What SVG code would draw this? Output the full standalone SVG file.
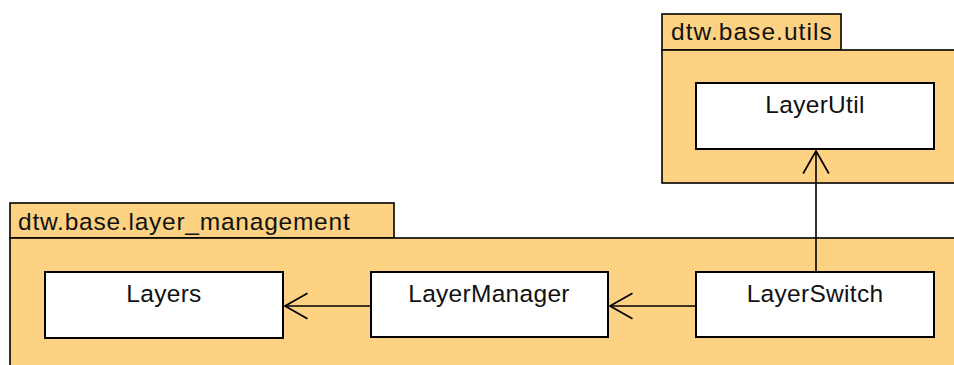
<svg xmlns="http://www.w3.org/2000/svg" width="954" height="365" viewBox="0 0 954 365">
  <style>
    .pkg { fill: #FED283; stroke: #000; stroke-width: 1.6; }
    .cls { fill: #fff; stroke: #000; stroke-width: 2; }
    .lbl { font-family: "Liberation Sans", Arial, sans-serif; font-size: 24.5px; fill: #111; letter-spacing: 0.3px; }
    .ctr { text-anchor: middle; }
    .dep { fill: none; stroke: #000; stroke-width: 1.6; }
  </style>
  <defs>
    <marker id="open" markerUnits="userSpaceOnUse" markerWidth="30" markerHeight="30" viewBox="-24 -14 28 28" refX="0" refY="0" orient="auto">
      <path d="M-21,-12 L0,0 L-21,12" fill="none" stroke="#000" stroke-width="1.6"/>
    </marker>
  </defs>
  <rect width="954" height="365" fill="#fff"/>

  <!-- package dtw.base.utils -->
  <g id="pkg-utils">
    <rect class="pkg" x="662" y="14" width="179" height="36"/>
    <rect class="pkg" x="662" y="50" width="300" height="133"/>
    <text class="lbl" x="671" y="40" textLength="161" lengthAdjust="spacing">dtw.base.utils</text>
  </g>

  <!-- package dtw.base.layer_management -->
  <g id="pkg-layer-management">
    <rect class="pkg" x="10" y="203" width="384" height="35"/>
    <rect class="pkg" x="10" y="238" width="952" height="140"/>
    <text class="lbl" x="18" y="230" textLength="332" lengthAdjust="spacing">dtw.base.layer_management</text>
  </g>

  <g id="LayerUtil">
    <rect class="cls" x="696" y="83" width="238" height="66"/>
    <text class="lbl ctr" x="815" y="113">LayerUtil</text>
  </g>

  <g id="Layers">
    <rect class="cls" x="45" y="272" width="238" height="66"/>
    <text class="lbl ctr" x="164" y="302">Layers</text>
  </g>

  <g id="LayerManager">
    <rect class="cls" x="371" y="272" width="237" height="65"/>
    <text class="lbl ctr" x="489" y="302">LayerManager</text>
  </g>

  <g id="LayerSwitch">
    <rect class="cls" x="696" y="272" width="238" height="65"/>
    <text class="lbl ctr" x="815" y="302">LayerSwitch</text>
  </g>

  <!-- dependencies -->
  <g id="connectors">
    <line class="dep" x1="371" y1="306" x2="285" y2="306" marker-end="url(#open)"/>
    <line class="dep" x1="696" y1="306" x2="610" y2="306" marker-end="url(#open)"/>
    <line class="dep" x1="816" y1="272" x2="816" y2="151" marker-end="url(#open)"/>
  </g>
</svg>
